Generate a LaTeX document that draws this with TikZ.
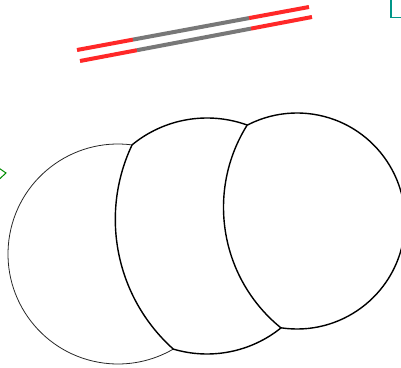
\documentclass[tikz,border=0pt]{standalone}
\begin{document}
\begin{tikzpicture}[x=1pt,y=1pt,
  thinline/.style={line width=0.8pt, draw=black!85},
  thickline/.style={line width=1.4pt, draw=black},
  redbar/.style={line width=4pt, draw={rgb,255:red,255;green,40;blue,40}},
  graybar/.style={line width=4pt, draw={rgb,255:red,120;green,120;blue,120}}]
\clip (0,0) rectangle (401,367);
\useasboundingbox (0,0) rectangle (401,367);
% circle centres
\coordinate (L) at (118,113);
\coordinate (M) at (207,131);
\coordinate (R) at (297,146);
\coordinate (CA) at (289.3,147.6);
\coordinate (CB) at (378.5,159.6);
% left circle (visible part)
\draw[thinline] (L) ++(82.7:110) arc[start angle=82.7, end angle=300.2, radius=110];
% middle shape
\draw[thickline] (M) ++(70:118) arc[start angle=70, end angle=129.5, radius=118];
\draw[thickline] (CA) ++(154.65:174) arc[start angle=154.65, end angle=228.2, radius=174];
\draw[thickline] (M) ++(253.4:118) arc[start angle=253.4, end angle=308.9, radius=118];
% right shape
\draw[thickline] (R) ++(-98.5:108) arc[start angle=-98.5, end angle=117.4, radius=108];
\draw[thickline] (CB) ++(147.9:155) arc[start angle=147.9, end angle=231.0, radius=155];
% double bars
\coordinate (u0) at (77,317);
\coordinate (u1) at (133,327.4);
\coordinate (u2) at (249,348.9);
\coordinate (u3) at (309,360);
\coordinate (l0) at (80,306);
\coordinate (l1) at (137,316.8);
\coordinate (l2) at (251,338.4);
\coordinate (l3) at (312,350);
\draw[redbar] (u0) -- (u1);
\draw[graybar] (u1) -- (u2);
\draw[redbar] (u2) -- (u3);
\draw[redbar] (l0) -- (l1);
\draw[graybar] (l1) -- (l2);
\draw[redbar] (l2) -- (l3);
% green partial diamond
\coordinate (g0) at (-0.5,198.5);
\coordinate (g1) at (6,194);
\coordinate (g2) at (-0.5,188);
\draw[line width=1pt, draw={rgb,255:red,0;green,140;blue,0}] (g0) -- (g1) -- (g2);
% teal corner
\coordinate (t0) at (391,368);
\coordinate (t1) at (391,349.5);
\coordinate (t2) at (402,349.5);
\draw[line width=1.2pt, draw={rgb,255:red,0;green,150;blue,136}] (t0) -- (t1) -- (t2);
\end{tikzpicture}
\end{document}
